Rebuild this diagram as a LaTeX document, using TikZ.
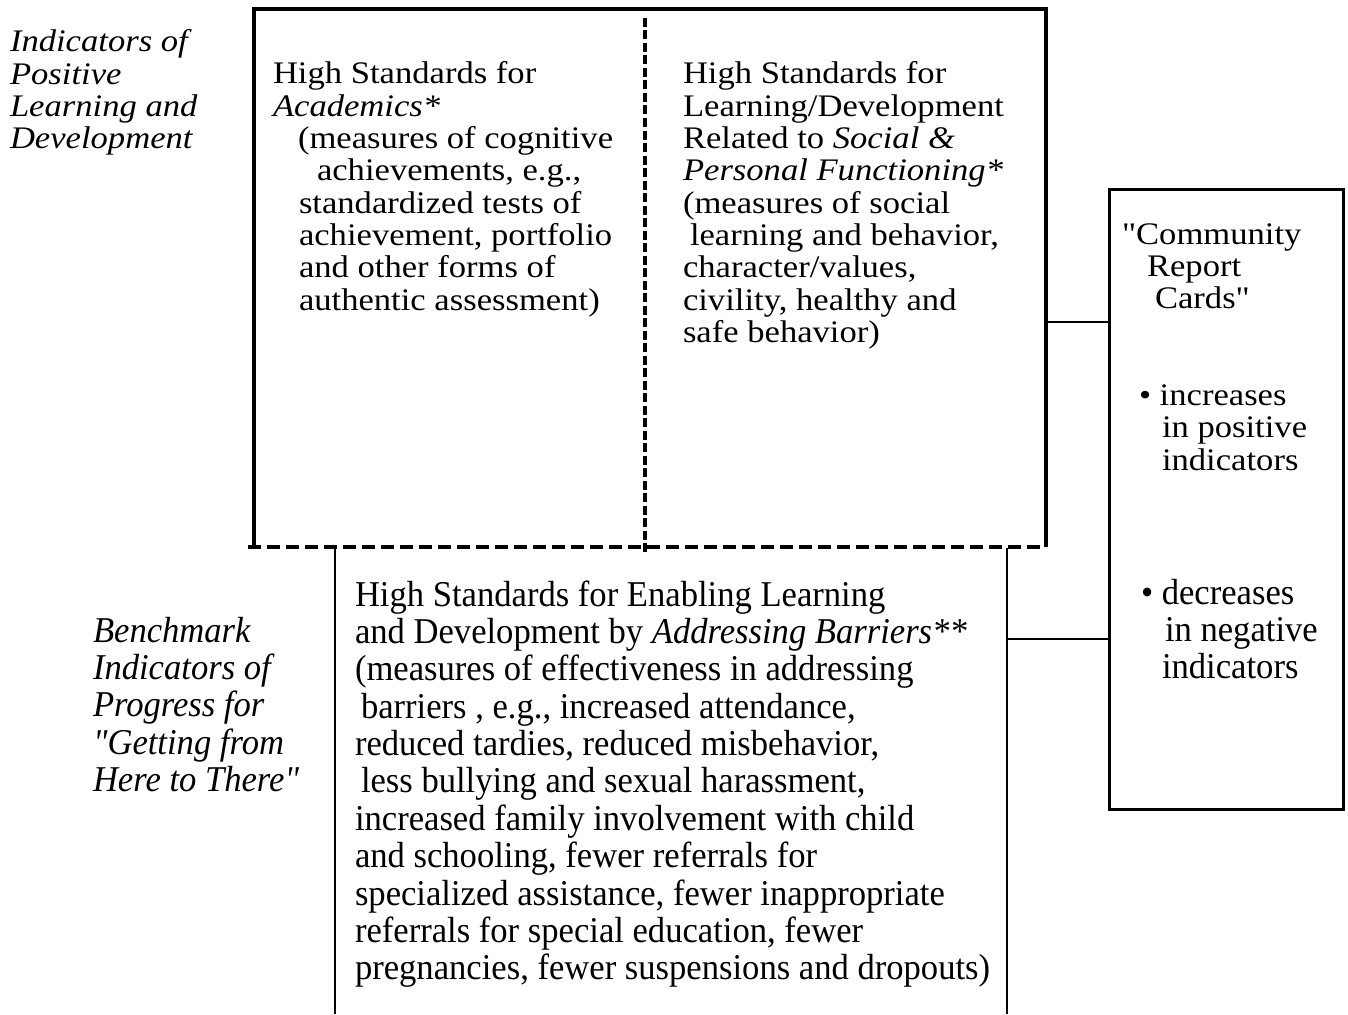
\documentclass[tikz,border=0pt]{standalone}
\usepackage{fontspec}
\setmainfont{Liberation Serif}[Ligatures=TeXOff]
\usepackage{graphicx}
\newcommand{\dq}{"}
\newcommand{\blocktext}[2][]{{\fontsize{34.6}{35.6}\selectfont#1\begin{tabular}[t]{@{}l@{}}#2\end{tabular}}}
\newcommand{\topsq}[2][]{\scalebox{1}[0.907]{\blocktext[#1]{#2}}}
\newcommand{\botsq}[2][]{\scalebox{1}[1.05]{\blocktext[#1]{#2}}}
\begin{document}
\begin{tikzpicture}[x=1pt,y=1pt,
  txt/.style={anchor=base west,inner sep=0pt,outer sep=0pt},
  heavy/.style={line width=3.3pt},
  thinline/.style={line width=2pt},
  dashh/.style={line width=3.3pt,dash pattern=on 13pt off 6pt},
  dashv/.style={line width=3.3pt,dash pattern=on 9pt off 3.5pt}]
\useasboundingbox (0,0) rectangle (1348,-1014);
% upper frame
\coordinate (tl) at (254,-9);
\coordinate (tr) at (1046,-9);
\coordinate (bl) at (254,-547);
\coordinate (br) at (1046,-547);
\coordinate (mt) at (645,-18);
\coordinate (mb) at (645,-553);
\draw[heavy] ([xshift=-2pt]tl) -- ([xshift=2pt]tr);
\draw[heavy] (tl) -- (bl);
\draw[heavy] (tr) -- (br);
\draw[dashh] ([xshift=-6pt]bl) -- (br);
\draw[dashv] (mt) -- (mb);
% lower frame
\coordinate (lt) at (335,-548);
\coordinate (lb) at (335,-1014);
\coordinate (rt) at (1007,-548);
\coordinate (rb) at (1007,-1014);
\draw[thinline] (lt) -- (lb);
\draw[thinline] (rt) -- (rb);
% right box
\node[draw,heavy,minimum width=234pt,minimum height=620pt,inner sep=0pt,anchor=north west] (rbox) at (1108,-188) {};
\coordinate (c1) at (1048,-322);
\coordinate (c2) at (1007,-639);
\draw[thinline] (c1) -- (c1 -| rbox.west);
\draw[thinline] (c2) -- (c2 -| rbox.west);
% texts
\node[txt] (lefttop) at (10,-52) {\topsq[\itshape]{Indicators of\\ Positive\\ Learning and\\ Development}};
\node[txt] (acad) at (273,-84) {\topsq{High Standards for\\ \textit{Academics*}\\ \hspace{25pt}(measures of cognitive\\ \hspace{44pt}achievements, e.g.,\\ \hspace{26pt}standardized tests of\\ \hspace{26pt}achievement, portfolio\\ \hspace{26pt}and other forms of\\ \hspace{26pt}authentic assessment)}};
\node[txt] (social) at (683,-84) {\topsq{High Standards for\\ Learning/Development\\ Related to \textit{Social \&}\\ \textit{Personal Functioning*}\\ (measures of social\\ \hspace{7pt}learning and behavior,\\ character/values,\\ civility, healthy and\\ safe behavior)}};
\node[txt] (crc) at (1122,-244) {\topsq{\dq Community\\ \hspace{25pt}Report\\ \hspace{33pt}Cards\dq\\ \\ \\ \hspace{17pt}• increases\\ \hspace{40pt}in positive\\ \hspace{40pt}indicators}};
\node[txt] (dec) at (1141,-604) {\botsq{• decreases\\ \hspace{24pt}in negative\\ \hspace{21pt}indicators}};
\node[txt] (leftbot) at (93,-642) {\botsq[\itshape]{Benchmark\\ Indicators of\\ Progress for\\ \dq Getting from\\ Here to There\dq}};
\node[txt] (barriers) at (355,-606) {\botsq{High Standards for Enabling Learning\\ and Development by \textit{Addressing Barriers**}\\ (measures of effectiveness in addressing\\ \hspace{6pt}barriers , e.g., increased attendance,\\ reduced tardies, reduced misbehavior,\\ \hspace{6pt}less bullying and sexual harassment,\\ increased family involvement with child\\ and schooling, fewer referrals for\\ specialized assistance, fewer inappropriate\\ referrals for special education, fewer\\ pregnancies, fewer suspensions and dropouts)}};
\end{tikzpicture}
\end{document}
